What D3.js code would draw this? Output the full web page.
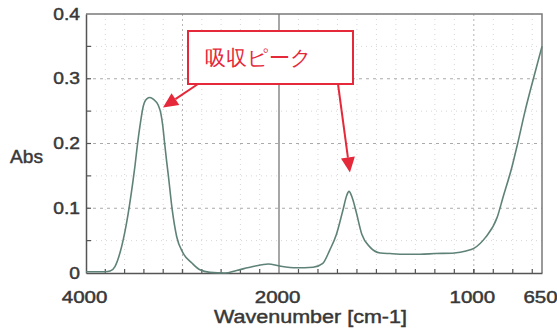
<!DOCTYPE html>
<html>
<head>
<meta charset="utf-8">
<script src="https://cdn.jsdelivr.net/npm/d3@7/dist/d3.min.js"></script>
<style>
  body { margin: 0; background: #fff; }
  text { font-family: "Liberation Sans", Arial, sans-serif; }
</style>
</head>
<body>
<div id="chart"></div>
<script>
// spectrum: wavenumber [cm-1] and absorbance
var wavenumbers = [4000, 3900, 3800, 3750, 3700, 3650, 3580, 3515, 3492, 3468, 3440, 3406,
                   3370, 3337, 3300, 3251, 3225, 3205, 3185, 3164, 3147, 3106, 3060, 2995,
                   2900, 2820, 2715, 2560, 2440, 2270, 2110, 2000, 1910, 1825, 1775, 1740,
                   1705, 1672, 1652, 1641, 1625, 1606, 1575, 1533, 1480, 1430, 1350, 1276,
                   1200, 1100, 1040, 1000, 940, 880, 850, 805, 775, 737, 697, 650];
var absorbance = [0.002, 0.002, 0.002, 0.003, 0.010, 0.030, 0.077, 0.140, 0.166, 0.197, 0.228, 0.258,
                  0.269, 0.271, 0.268, 0.259, 0.247, 0.228, 0.200, 0.172, 0.151, 0.097, 0.056, 0.031,
                  0.015, 0.005, 0.001, 0.000, 0.004, 0.010, 0.014, 0.011, 0.008, 0.009, 0.015, 0.035,
                  0.060, 0.097, 0.120, 0.126, 0.117, 0.097, 0.060, 0.040, 0.031, 0.030, 0.029, 0.029,
                  0.030, 0.031, 0.034, 0.038, 0.055, 0.086, 0.117, 0.163, 0.200, 0.250, 0.297, 0.350];

var xTickValues = [4000, 2000, 1000, 650];
var xTickLabels = ["4000", "2000", "1000", "650"];
var yTickValues = [0, 0.1, 0.2, 0.3, 0.4];
var yTickLabels = ["0", "0.1", "0.2", "0.3", "0.4"];
var peakWavenumbers = [3337, 1641];
var annotationText = "吸収ピーク";

var W = 557, H = 332;
var plot = {left: 86, right: 542, top: 14, bottom: 273};
var labelColor = "#383838";

var svg = d3.select("#chart")
            .append("svg")
            .attr("width", W)
            .attr("height", H);

// the x axis is expanded 2x below 2000 cm-1
var xScale = d3.scaleLinear()
               .domain([4000, 2000, 650])
               .range([plot.left, 279, plot.right]);
var yScale = d3.scaleLinear()
               .domain([0, 0.4])
               .range([plot.bottom, plot.top]);

// minor positions
var xMinor = d3.range(3800, 2000, -200).concat(d3.range(1900, 650, -100));
var yMinor = d3.range(0.05, 0.4, 0.1);
var yMajor = [0.1, 0.2, 0.3];

var grid = svg.append("g").attr("id", "grid");

grid.selectAll("line.vminor")
    .data(xMinor)
    .enter()
    .append("line")
    .attr("x1", function(d){ return xScale(d); })
    .attr("x2", function(d){ return xScale(d); })
    .attr("y1", plot.top)
    .attr("y2", plot.bottom)
    .attr("stroke", function(d){ return (d == 1000 || d == 3000) ? "#b5b5b5" : "#d6d6d6"; })
    .attr("stroke-dasharray", function(d){ return (d == 1000 || d == 3000) ? "2,3" : "1,4"; })
    .attr("stroke-width", 1);

grid.selectAll("line.hminor")
    .data(yMinor)
    .enter()
    .append("line")
    .attr("x1", plot.left)
    .attr("x2", plot.right)
    .attr("y1", function(d){ return yScale(d); })
    .attr("y2", function(d){ return yScale(d); })
    .attr("stroke", "#d6d6d6")
    .attr("stroke-dasharray", "1,4");

grid.selectAll("line.hmajor")
    .data(yMajor)
    .enter()
    .append("line")
    .attr("x1", plot.left)
    .attr("x2", plot.right)
    .attr("y1", function(d){ return yScale(d); })
    .attr("y2", function(d){ return yScale(d); })
    .attr("stroke", "#aaaaaa")
    .attr("stroke-dasharray", "3,4");

// solid line at the scale break
svg.append("line")
   .attr("x1", xScale(2000))
   .attr("x2", xScale(2000))
   .attr("y1", plot.top)
   .attr("y2", plot.bottom)
   .attr("stroke", "#777")
   .attr("stroke-width", 1.3);

// frame
svg.append("path")
   .attr("d", "M" + plot.left + "," + plot.top + "H" + plot.right + "V" + plot.bottom)
   .attr("fill", "none")
   .attr("stroke", "#7a7a7a")
   .attr("stroke-width", 1.5);

// text looks a bit heavier than regular in the picture
function heavy(sel){
    sel.attr("fill", labelColor)
       .attr("stroke", labelColor)
       .attr("stroke-width", 0.45);
}

// axes
var xAxis = d3.axisBottom(xScale)
              .tickValues(xTickValues)
              .tickSize(0)
              .tickPadding(0)
              .tickFormat(function(d, i){ return xTickLabels[i]; });
var gx = svg.append("g")
   .attr("id", "x-axis")
   .attr("transform", "translate(0," + plot.bottom + ")")
   .call(xAxis);
gx.select(".domain").attr("stroke", "#555").attr("stroke-width", 1.5);
gx.selectAll(".tick text")
   .attr("y", 30)
   .attr("dy", 0)
   .attr("dx", -2)
   .attr("font-size", "16px")
   .attr("font-family", "Liberation Sans, Arial, sans-serif")
   .call(heavy)
   .each(function(){
       var n = this.getComputedTextLength();
       d3.select(this).attr("textLength", n * 1.28).attr("lengthAdjust", "spacingAndGlyphs");
   });

// minor ticks pointing inwards
svg.append("g")
   .attr("id", "x-minor")
   .selectAll("line")
   .data(xMinor.concat([3000, 1000]))
   .enter()
   .append("line")
   .attr("x1", function(d){ return xScale(d); })
   .attr("x2", function(d){ return xScale(d); })
   .attr("y1", plot.bottom)
   .attr("y2", plot.bottom - 4)
   .attr("stroke", "#555")
   .attr("stroke-width", 1.2);

var yAxis = d3.axisLeft(yScale)
              .tickValues(yTickValues)
              .tickSize(0)
              .tickPadding(6)
              .tickFormat(function(d, i){ return yTickLabels[i]; });
var gy = svg.append("g")
   .attr("id", "y-axis")
   .attr("transform", "translate(" + plot.left + ",0)")
   .call(yAxis);
gy.select(".domain").attr("stroke", "#555").attr("stroke-width", 1.5);
gy.selectAll(".tick text")
   .attr("font-size", "16px")
   .attr("font-family", "Liberation Sans, Arial, sans-serif")
   .call(heavy)
   .each(function(){
       var n = this.getComputedTextLength();
       d3.select(this).attr("textLength", n * 1.2).attr("lengthAdjust", "spacingAndGlyphs");
   });

svg.append("g")
   .attr("id", "y-minor")
   .selectAll("line")
   .data(yMinor.concat(yMajor))
   .enter()
   .append("line")
   .attr("x1", plot.left)
   .attr("x2", plot.left + 5)
   .attr("y1", function(d){ return yScale(d); })
   .attr("y2", function(d){ return yScale(d); })
   .attr("stroke", "#555")
   .attr("stroke-width", 1.2);

// axis titles
svg.append("text")
   .attr("x", 10)
   .attr("y", 163)
   .attr("font-size", "18px")
   .attr("textLength", 33)
   .attr("lengthAdjust", "spacingAndGlyphs")
   .call(heavy)
   .text("Abs");

svg.append("text")
   .attr("x", 214)
   .attr("y", 323)
   .attr("font-size", "18px")
   .attr("textLength", 193)
   .attr("lengthAdjust", "spacingAndGlyphs")
   .call(heavy)
   .text("Wavenumber [cm-1]");

// spectrum
var spectrum = wavenumbers.map(function(w, i){ return {w: w, a: absorbance[i]}; });
var line = d3.line()
             .x(function(d){ return xScale(d.w); })
             .y(function(d){ return yScale(d.a); })
             .curve(d3.curveMonotoneX);

svg.append("path")
   .datum(spectrum)
   .attr("d", line)
   .attr("fill", "none")
   .attr("stroke", "#5f8278")
   .attr("stroke-width", 1.6);

// annotation
var red = "#e5283a";
var box = {x: 188, y: 31, w: 165, h: 53};

function arrow(x1, y1, x2, y2){
    var ang = Math.atan2(y2 - y1, x2 - x1),
        len = 15, half = 7;
    var bx = x2 - len * Math.cos(ang), by = y2 - len * Math.sin(ang);
    svg.append("line")
       .attr("x1", x1).attr("y1", y1)
       .attr("x2", bx).attr("y2", by)
       .attr("stroke", red)
       .attr("stroke-width", 2);
    var px = -Math.sin(ang) * half, py = Math.cos(ang) * half;
    svg.append("path")
       .attr("d", "M" + x2 + "," + y2 + "L" + (bx + px) + "," + (by + py) + "L" + (bx - px) + "," + (by - py) + "Z")
       .attr("fill", red);
}

var peaks = peakWavenumbers.map(function(w){
    var i = wavenumbers.indexOf(w);
    return {x: xScale(w), y: yScale(absorbance[i])};
});

arrow(box.x + 10, box.y + box.h, peaks[0].x + 13, peaks[0].y + 10);
arrow(box.x + box.w - 15, box.y + box.h, peaks[1].x + 1, peaks[1].y - 19);

svg.append("rect")
   .attr("x", box.x)
   .attr("y", box.y)
   .attr("width", box.w)
   .attr("height", box.h)
   .attr("fill", "#fff")
   .attr("stroke", red)
   .attr("stroke-width", 2);

svg.append("text")
   .attr("x", box.x + box.w / 2 - 12)
   .attr("y", box.y + 34)
   .attr("text-anchor", "middle")
   .attr("font-family", "Noto Sans CJK JP, sans-serif")
   .attr("font-size", "21px")
   .attr("fill", red)
   .text(annotationText);
</script>
</body>
</html>
